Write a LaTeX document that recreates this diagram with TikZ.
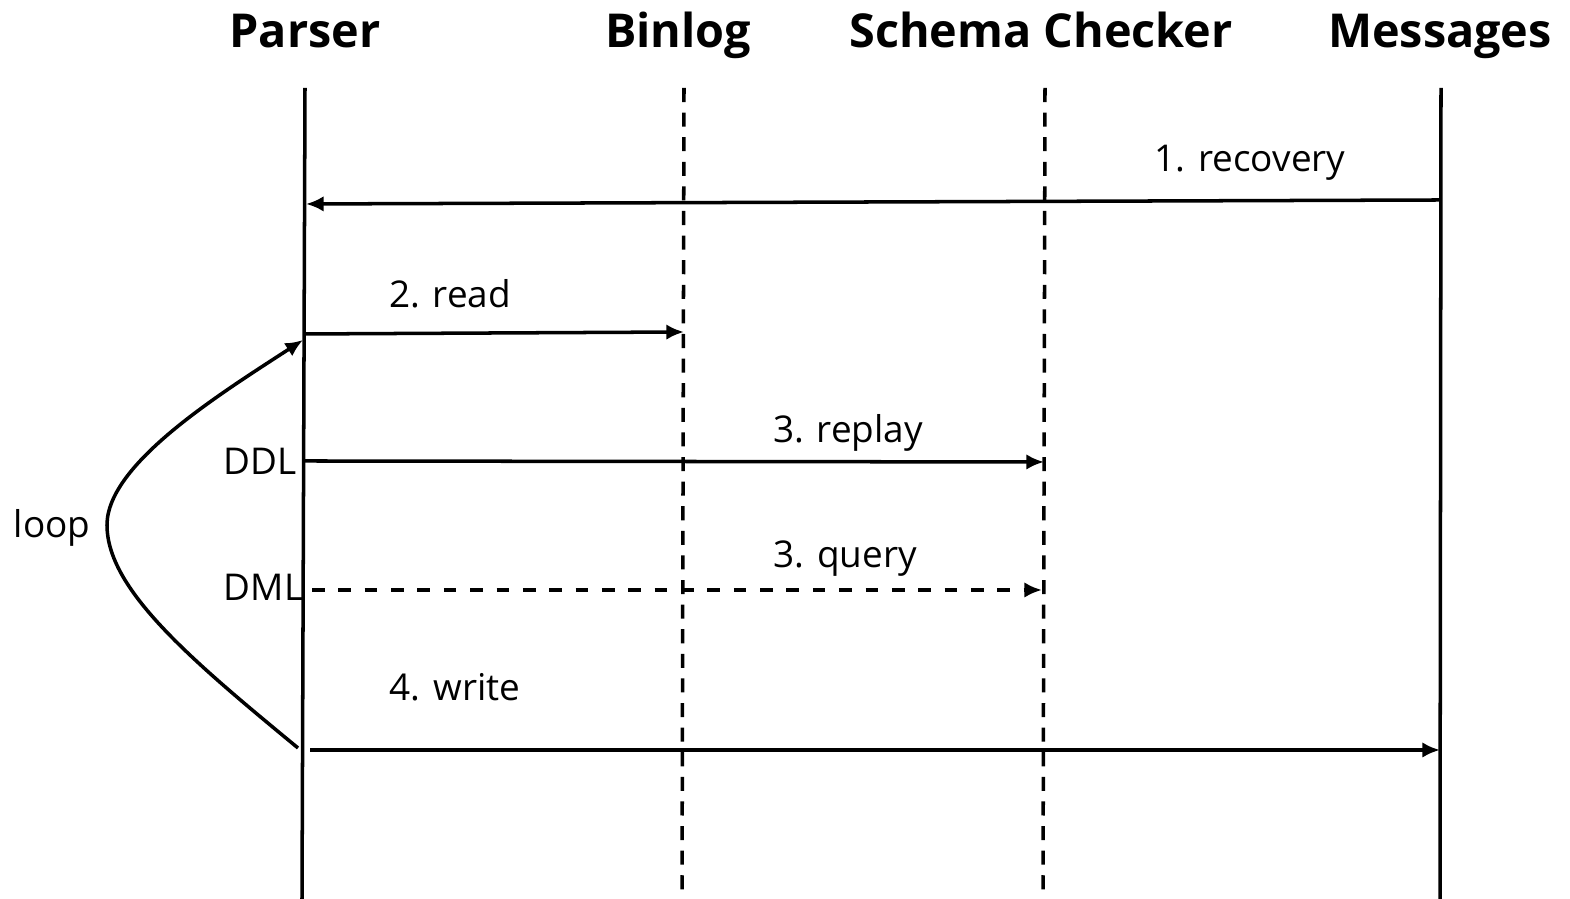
\documentclass[tikz,border=0pt]{standalone}
\usepackage{fontspec}
\setmainfont{Open Sans}
\usepackage{tikz}
\usetikzlibrary{arrows.meta}
\usetikzlibrary{positioning}
\tikzset{>={Latex[length=5pt,width=4.4pt]}}
\tikzset{life/.style = {line width=1pt}}
\tikzset{lifedash/.style = {line width=1pt, dash pattern=on 4pt off 3pt}}
\tikzset{msg/.style = {->, line width=1pt}}
\tikzset{head/.style = {draw=none, anchor=base, font=\fontsize{13.3}{15}\selectfont\bfseries}}
\tikzset{lbl/.style = {draw=none, anchor=base, font=\fontsize{10.5}{12}\selectfont}}

\begin{document}
\begin{tikzpicture}
\useasboundingbox (0, 0) rectangle (15.70, 8.99);
% lifelines
\node [head] (parser) at (3.05, 8.51) {Parser};
\node [head] (binlog) at (6.78, 8.51) {Binlog};
\node [head] (checker) at (10.41, 8.51) {Schema Checker};
\node [head] (messages) at (14.40, 8.51) {Messages};
\coordinate (pT) at (3.05, 8.11);
\coordinate (pB) at (3.02, 0);
\coordinate (bT) at (6.84, 8.11);
\coordinate (bB) at (6.82, 0);
\coordinate (cT) at (10.45, 8.11);
\coordinate (cB) at (10.43, 0);
\coordinate (mT) at (14.41, 8.11);
\coordinate (mB) at (14.40, 0);
\draw [life] (pT) -- (pB);
\draw [lifedash] (bT) -- (bB);
\draw [lifedash] (cT) -- (cB);
\draw [life] (mT) -- (mB);
% messages
\coordinate (rec1) at (14.41, 6.99);
\coordinate (rec2) at (3.06, 6.95);
\draw [msg] (rec1) -- (rec2);
\node [lbl] (recovery) at (12.50, 7.27) {1. recovery};
\coordinate (read1) at (3.05, 5.65);
\coordinate (read2) at (6.84, 5.67);
\draw [msg] (read1) -- (read2);
\node [lbl] (read) at (4.50, 5.91) {2. read};
\coordinate (rep1) at (3.05, 4.38);
\coordinate (rep2) at (10.44, 4.37);
\draw [msg] (rep1) -- (rep2);
\node [lbl] (replay) at (8.48, 4.56) {3. replay};
\node [lbl, anchor=base east, inner xsep=0pt] (ddl) at (2.97, 4.24) {DDL};
\coordinate (qry1) at (3.12, 3.09);
\coordinate (qry2) at (10.42, 3.09);
\draw [msg, dash pattern=on 3.6pt off 3.9pt] (qry1) -- (qry2);
\node [lbl] (query) at (8.45, 3.31) {3. query};
\node [lbl, anchor=base east, inner xsep=0pt] (dml) at (3.04, 2.98) {DML};
\coordinate (wr1) at (3.10, 1.49);
\coordinate (wr2) at (14.40, 1.49);
\draw [msg] (wr1) -- (wr2);
\node [lbl] (write) at (4.55, 1.98) {4. write};
% loop
\coordinate (lp1) at (2.98, 1.51);
\coordinate (lp2) at (1.07, 3.74);
\coordinate (lp3) at (3.03, 5.59);
\draw [msg] (lp1) .. controls (1.9, 2.4) and (1.07, 3.1) .. (lp2)
  .. controls (1.07, 4.35) and (2.2, 5.05) .. (lp3);
\node [lbl] (loop) at (0.52, 3.61) {loop};
\end{tikzpicture}
\end{document}
